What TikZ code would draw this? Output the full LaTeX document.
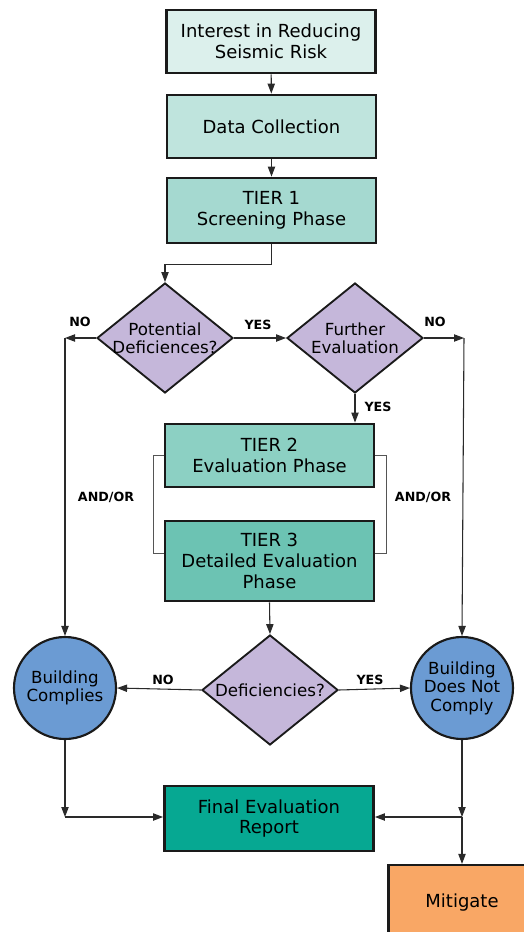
\documentclass[tikz,border=0pt]{standalone}
\usepackage{fontspec}
\setmainfont{DejaVu Sans}
\usetikzlibrary{shapes.geometric,arrows.meta}
\definecolor{frame}{HTML}{1A1A1A}
\definecolor{linec}{HTML}{2A2A2A}
\definecolor{brk}{HTML}{555555}
\definecolor{cA}{HTML}{DCF0EC}
\definecolor{cB}{HTML}{BFE4DD}
\definecolor{cC}{HTML}{A5D9D0}
\definecolor{cD}{HTML}{8CD0C3}
\definecolor{cE}{HTML}{6CC3B3}
\definecolor{cF}{HTML}{06A892}
\definecolor{cDia}{HTML}{C5B7DA}
\definecolor{cCir}{HTML}{6B9BD3}
\definecolor{cMit}{HTML}{F9A765}
\begin{document}
\begin{tikzpicture}[x=0.75pt,y=-0.75pt,
  box/.style={draw=frame, line width=1.9pt, align=center, inner sep=0pt,
    minimum width=157pt, minimum height=47.5pt,
    font=\fontsize{13.5}{15.5}\selectfont},
  dec/.style={shape=diamond, draw=frame, line width=1.4pt, fill=cDia, inner sep=0pt,
    minimum width=102pt, minimum height=82.5pt},
  dtext/.style={font=\fontsize{12.5}{13.8}\selectfont, align=center, inner sep=0pt},
  res/.style={shape=circle, draw=frame, line width=1.6pt, fill=cCir, inner sep=0pt,
    minimum size=76.5pt, align=center, font=\fontsize{12.5}{13.8}\selectfont},
  lab/.style={font=\fontsize{9.5}{11}\bfseries\selectfont, inner sep=0pt},
  arr/.style={draw=linec, line width=0.8pt, -{Triangle[length=7.5pt,width=5.5pt]}},
  ln/.style={draw=linec, line width=0.8pt},
  bracket/.style={draw=brk, line width=0.7pt}]
\useasboundingbox (0,0) rectangle (524,932);
\clip (0,0) rectangle (524,932);

% boxes
\node[box, fill=cA] (n1) at (271,41.5) {Interest in Reducing\\Seismic Risk};
\node[box, fill=cB] (n2) at (271.5,126.5) {Data Collection};
\node[box, fill=cC, minimum height=49pt] (n3) at (271.5,210.5) {TIER 1\\Screening Phase};
\node[box, fill=cD] (t2) at (269.5,455.5) {TIER 2\\Evaluation Phase};
\node[box, fill=cE, minimum height=60pt] (t3) at (269.5,561) {TIER 3\\Detailed Evaluation\\Phase};
\node[box, fill=cF, minimum height=49pt] (fin) at (269,818.5) {Final Evaluation\\Report};
\node[box, fill=cMit, minimum width=110pt, minimum height=56pt] (mit) at (462,902.5) {Mitigate};

% decisions
\node[dec, label={[dtext]center:{Potential\\Deficiences?}}] (d1) at (165,338) {};
\node[dec, label={[dtext]center:{Further\\Evaluation}}] (d2) at (355,338) {};
\node[dec, label={[dtext]center:{Deficiencies?}}] (d3) at (270,690) {};

% results
\node[res] (c1) at (65,688) {Building\\Complies};
\node[res] (c2) at (462,688) {Building\\Does Not\\Comply};

% helper coordinates
\coordinate (cL) at (65,338);
\coordinate (cR) at (464,338);
\coordinate (jL) at (65,817);
\coordinate (jR) at (462,817);

% connectors
\draw[arr] (n1) -- (n2);
\draw[arr] (n2) -- (n3);
\draw[arr] (n3.south) -- ++(0,20) -| (d1.north);
\draw[arr] (d1.west) -- (cL);
\draw[arr] (cL) -- (c1.north);
\draw[arr] (d1.east) -- (d2.west);
\draw[arr] (d2.east) -- (cR);
\draw[arr] (cR) -- (c2.north);
\draw[arr] (d2.south) -- (d2.south |- t2.north);
\draw[bracket] (t2.west) -- (153,455.5) -- (153,553) -- (t3.west |- 0,553);
\draw[bracket] (t2.east) -- (386,455.5) -- (386,553) -- (t3.east |- 0,553);
\draw[arr] (t3.south) -- (d3.north);
\draw[arr] (d3.west) -- (c1.east);
\draw[arr] (d3.east) -- (c2.west);
\draw[arr] (c1.south) -- (jL);
\draw[arr] (jL) -- (fin.west |- jL);
\draw[arr] (c2.south) -- (jR);
\draw[arr] (jR) -- (fin.east |- jR);
\draw[arr] (jR) -- (mit.north);

% labels
\node[lab] (l1) at (80,322) {NO};
\node[lab] (l2) at (258,325) {YES};
\node[lab] (l3) at (435,322) {NO};
\node[lab] (l4) at (378,407) {YES};
\node[lab] (l5) at (106,497) {AND/OR};
\node[lab] (l6) at (423,497) {AND/OR};
\node[lab] (l7) at (163,680) {NO};
\node[lab] (l8) at (370,680) {YES};
\end{tikzpicture}
\end{document}
